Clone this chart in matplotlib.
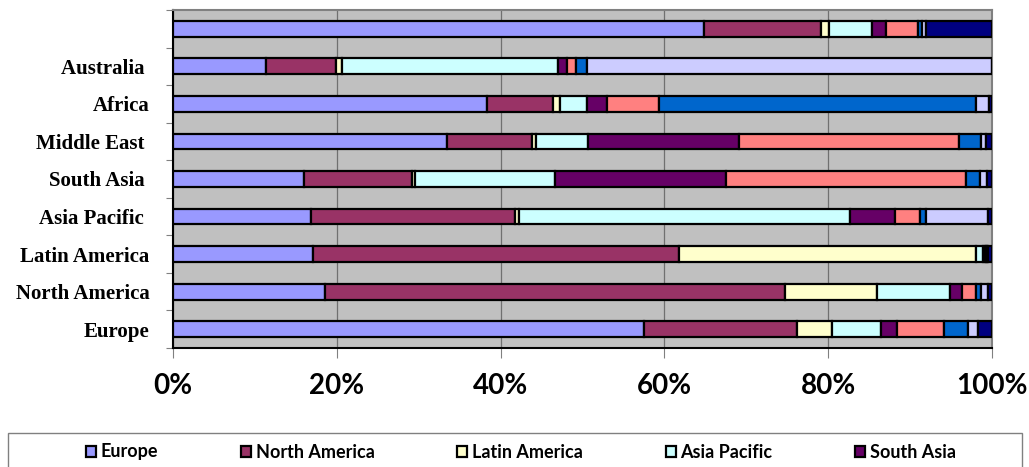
import numpy as np
import matplotlib
matplotlib.use("Agg")
import matplotlib.pyplot as plt
from matplotlib.patches import Rectangle

# rows, bottom to top (top row has no label)
regions = ["Europe", "North America", "Latin America", "Asia Pacific ",
           "South Asia ", "Middle East ", "Africa", "Australia ", ""]

# share (%) of each series in every row, same order as regions
europe = [57.5, 18.5, 17.1, 16.9, 16.0, 33.5, 38.3, 11.4, 64.8]
north_america = [18.7, 56.2, 44.7, 24.9, 13.2, 10.3, 8.1, 8.5, 14.3]
latin_america = [4.3, 11.3, 36.2, 0.5, 0.3, 0.5, 0.9, 0.7, 1.0]
asia_pacific = [6.0, 8.9, 0.9, 40.4, 17.1, 6.4, 3.2, 26.4, 5.2]
south_asia = [1.9, 1.4, 0.2, 5.4, 20.9, 18.4, 2.5, 1.1, 1.8]
middle_east = [5.8, 1.8, 0.2, 3.1, 29.3, 26.9, 6.3, 1.1, 3.9]
africa = [2.9, 0.5, 0.1, 0.7, 1.7, 2.7, 38.7, 1.3, 0.4]
australia = [1.2, 0.9, 0.1, 7.6, 0.9, 0.6, 1.6, 49.5, 0.6]
other = [1.7, 0.5, 0.5, 0.5, 0.6, 0.7, 0.4, 0.0, 8.0]

series_names = ["Europe", "North America", "Latin America", "Asia Pacific",
                "South Asia", "Middle East", "Africa", "Australia", "Other"]
series_values = [europe, north_america, latin_america, asia_pacific,
                 south_asia, middle_east, africa, australia, other]
colors = ["#9999FF", "#993366", "#FFFFCC", "#CCFFFF", "#660066",
          "#FF8080", "#0066CC", "#CCCCFF", "#000080"]

data = np.array(series_values, dtype=float)
data = data / data.sum(axis=0) * 100  # 100% stacked

fig = plt.figure(figsize=(10.29, 4.67), dpi=100)
ax = fig.add_axes([173 / 1029, 1 - 348 / 467, 819 / 1029, 338 / 467])
ax.set_facecolor("#C0C0C0")

y = np.arange(len(regions))
left = np.zeros(len(regions))
bars = []
for name, vals, col in zip(series_names, data, colors):
    b = ax.barh(y, vals, left=left, height=0.42, color=col,
                edgecolor="black", linewidth=1.6, label=name, zorder=3)
    bars.append(b)
    left += vals

ax.set_xlim(0, 100)
ax.set_ylim(-0.5, len(regions) - 0.5)

# x axis
ax.set_xticks([0, 20, 40, 60, 80, 100])
ax.set_xticklabels(["0%", "20%", "40%", "60%", "80%", "100%"],
                   fontfamily="Lato", fontweight="bold", fontsize=20)
ax.tick_params(axis="x", length=7, width=0.8, color="#808080", pad=11)
ax.grid(axis="x", color="#707070", linewidth=0.9, zorder=1)

# y axis: ticks between categories, labels at centres
ax.set_yticks(np.arange(-0.5, len(regions), 1))
ax.set_yticklabels([])
ax.set_yticks(y, minor=True)
ax.set_yticklabels(regions, minor=True, fontfamily="Liberation Serif",
                   fontweight="bold", fontsize=15)
ax.tick_params(axis="y", which="major", length=5, width=0.8, color="#808080")
ax.tick_params(axis="y", which="minor", length=0, pad=17)

ax.spines["left"].set_color("black")
ax.spines["left"].set_linewidth(1.5)
ax.spines["bottom"].set_color("black")
ax.spines["bottom"].set_linewidth(1.5)
ax.spines["top"].set_color("#808080")
ax.spines["top"].set_linewidth(1.5)
ax.spines["right"].set_color("#808080")
ax.spines["right"].set_linewidth(1.5)

# legend box runs off the bottom of the figure; only the first row shows
fig.patches.append(Rectangle((8 / 1029, -0.1), 1014 / 1029, 0.1 + 34 / 467,
                             transform=fig.transFigure, facecolor="white",
                             edgecolor="#808080", linewidth=1.0))
leg = fig.legend(bars[:5], series_names[:5], ncol=5, loc="center",
                 bbox_to_anchor=(521 / 1029, 1 - 452 / 467),
                 frameon=False, handlelength=0.55, handleheight=0.55,
                 handletextpad=0.25, columnspacing=4.6, borderpad=0,
                 prop={"family": "Lato", "weight": "bold", "size": 13})

fig.savefig("out.png", dpi=100)
